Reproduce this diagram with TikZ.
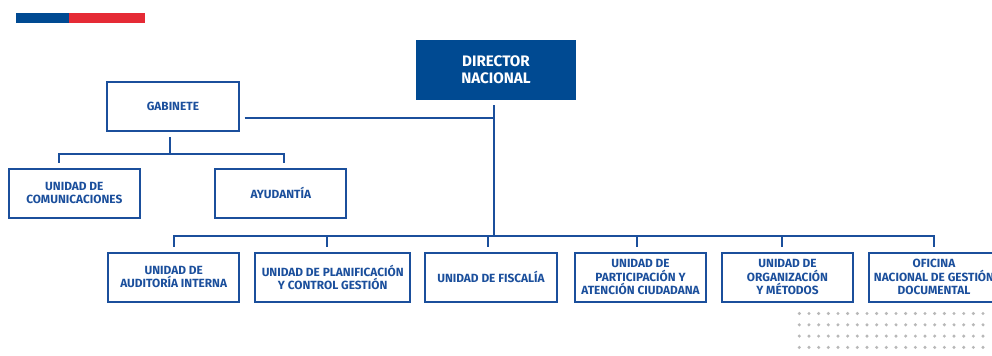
\documentclass[tikz,border=0pt]{standalone}
\usepackage{fontspec}
\setmainfont{Fira Sans}
\usepackage{tikz}
\usetikzlibrary{calc,positioning}
\definecolor{gobblue}{HTML}{1B4F9C}
\definecolor{gobdark}{HTML}{004A92}
\definecolor{gobred}{HTML}{E52A35}
\definecolor{dotgray}{HTML}{B8B8B8}
\tikzstyle{unit}=[rectangle, draw=gobblue, line width=1.5pt, text=gobblue, font=\bfseries\fontsize{8.9}{10}\selectfont, align=center, minimum width=98.5pt, minimum height=37pt, inner sep=1pt, outer sep=4.5pt]
\begin{document}
\begin{tikzpicture}[x=0.75pt,y=-0.75pt,link/.style={draw=gobblue,line width=1.5pt}]
\useasboundingbox (0,0) rectangle (992,356);
\clip (0,0) rectangle (992,356);
\fill[gobdark] (16,13) rectangle (69,23.5);
\fill[gobred] (69,13) rectangle (145,23.5);
\node (dir) at (496,70)[unit,fill=gobdark,draw=gobdark,text=white,minimum width=118.5pt,minimum height=44pt,font=\bfseries\fontsize{11.4}{12.5}\selectfont] {DIRECTOR\\NACIONAL};
\node (gab) at (172.9,106.2)[unit] {GABINETE};
\node (com) at (74.3,193.2)[unit] {UNIDAD DE\\COMUNICACIONES};
\node (ayu) at (280.8,193.2)[unit] {AYUDANTÍA};
\node (aud) at (173.7,277.2)[unit] {UNIDAD DE\\AUDITORÍA INTERNA};
\node (pla) at (332.7,277.2)[unit,minimum width=116pt] {UNIDAD DE PLANIFICACIÓN\\Y CONTROL GESTIÓN};
\node (fis) at (491,277.2)[unit] {UNIDAD DE FISCALÍA};
\node (par) at (640.5,277.2)[unit] {UNIDAD DE\\PARTICIPACIÓN Y\\ATENCIÓN CIUDADANA};
\node (org) at (787.5,277.2)[unit] {UNIDAD DE\\ORGANIZACIÓN\\Y MÉTODOS};
\node (ofi) at (934,277.2)[unit,minimum width=97.5pt] {OFICINA\\NACIONAL DE GESTIÓN\\DOCUMENTAL};
\coordinate (dj) at (494,236);
\coordinate (gl) at (494,118.3);
\coordinate (gj) at (170,154);
\coordinate (cL) at (58.7,154);
\coordinate (cR) at (284.3,154);
\coordinate (b1) at (174,236);
\coordinate (b2) at (326.7,236);
\coordinate (b3) at (488.3,236);
\coordinate (b4) at (637,236);
\coordinate (b5) at (781.7,236);
\coordinate (b6) at (934,236);
\draw[link] (dj |- dir.south) -- (dj);
\draw[link] (gab.east |- gl) -- (gl);
\draw[link] (gj |- gab.south) -- (gj);
\draw[link] (cL |- com.north) -- (cL) -- (cR) -- (cR |- ayu.north);
\draw[link] (b1 |- aud.north) -- (b1) -- (b6) -- (b6 |- ofi.north);
\draw[link] (b2) edge (b2 |- pla.north);
\draw[link] (b3) edge (b3 |- fis.north);
\draw[link] (b4) edge (b4 |- par.north);
\draw[link] (b5) edge (b5 |- org.north);
\foreach \i in {0,...,19}
  \foreach \j in {0,...,3}
    \fill[dotgray] (799.3+9.67*\i,313.5+11.3*\j) circle (1.7);
\end{tikzpicture}
\end{document}
